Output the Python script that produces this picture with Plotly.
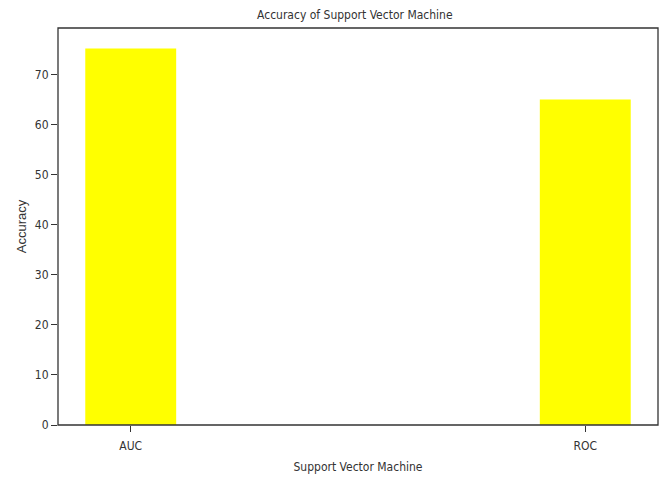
import plotly.graph_objects as go

categories = ["AUC", "ROC"]
accuracy = [75.2, 65.0]

FONT = "Liberation Sans Narrow, DejaVu Sans Condensed, Liberation Sans, sans-serif"
fig = go.Figure(go.Bar(x=categories, y=accuracy, width=0.2, marker=dict(color="#ffff00", line=dict(width=0))))

fig.update_layout(
    width=662, height=477,
    margin=dict(l=58, r=4, t=28, b=52, autoexpand=False),
    paper_bgcolor="white", plot_bgcolor="white",
    font=dict(family=FONT, size=12, color="#333333"),
    title=dict(text="Accuracy of Support Vector Machine", x=0.536, xanchor="center", y=0.969, yanchor="middle",
               font=dict(family=FONT, size=12, color="#333333")),
    showlegend=False,
    shapes=[dict(type="rect", xref="paper", yref="paper", x0=0, x1=1, y0=0, y1=1,
                 line=dict(color="#333333", width=1.3), layer="above")],
)
fig.update_xaxes(
    type="category", range=[-0.16, 1.16], automargin=False,
    showline=False,
    ticks="outside", ticklen=6, tickcolor="#333333", showgrid=False,
    ticklabelstandoff=4,
    tickfont=dict(family=FONT, size=12, color="#333333"),
    title=dict(text="Support Vector Machine", font=dict(family=FONT, size=12, color="#333333"), standoff=10),
)
fig.update_yaxes(
    range=[0, 79.3], tickvals=[0, 10, 20, 30, 40, 50, 60, 70], automargin=False,
    showline=False,
    ticks="outside", ticklen=6, tickcolor="#333333", showgrid=False, zeroline=False,
    tickfont=dict(family=FONT, size=12, color="#333333"),
    title=dict(text="Accuracy", font=dict(family="Liberation Sans, Arial, sans-serif", size=13, color="#333333"), standoff=5),
)

fig.write_html("out.html", config={"displayModeBar": False},
               post_script="document.body.style.margin='0';document.body.style.overflow='hidden';")
